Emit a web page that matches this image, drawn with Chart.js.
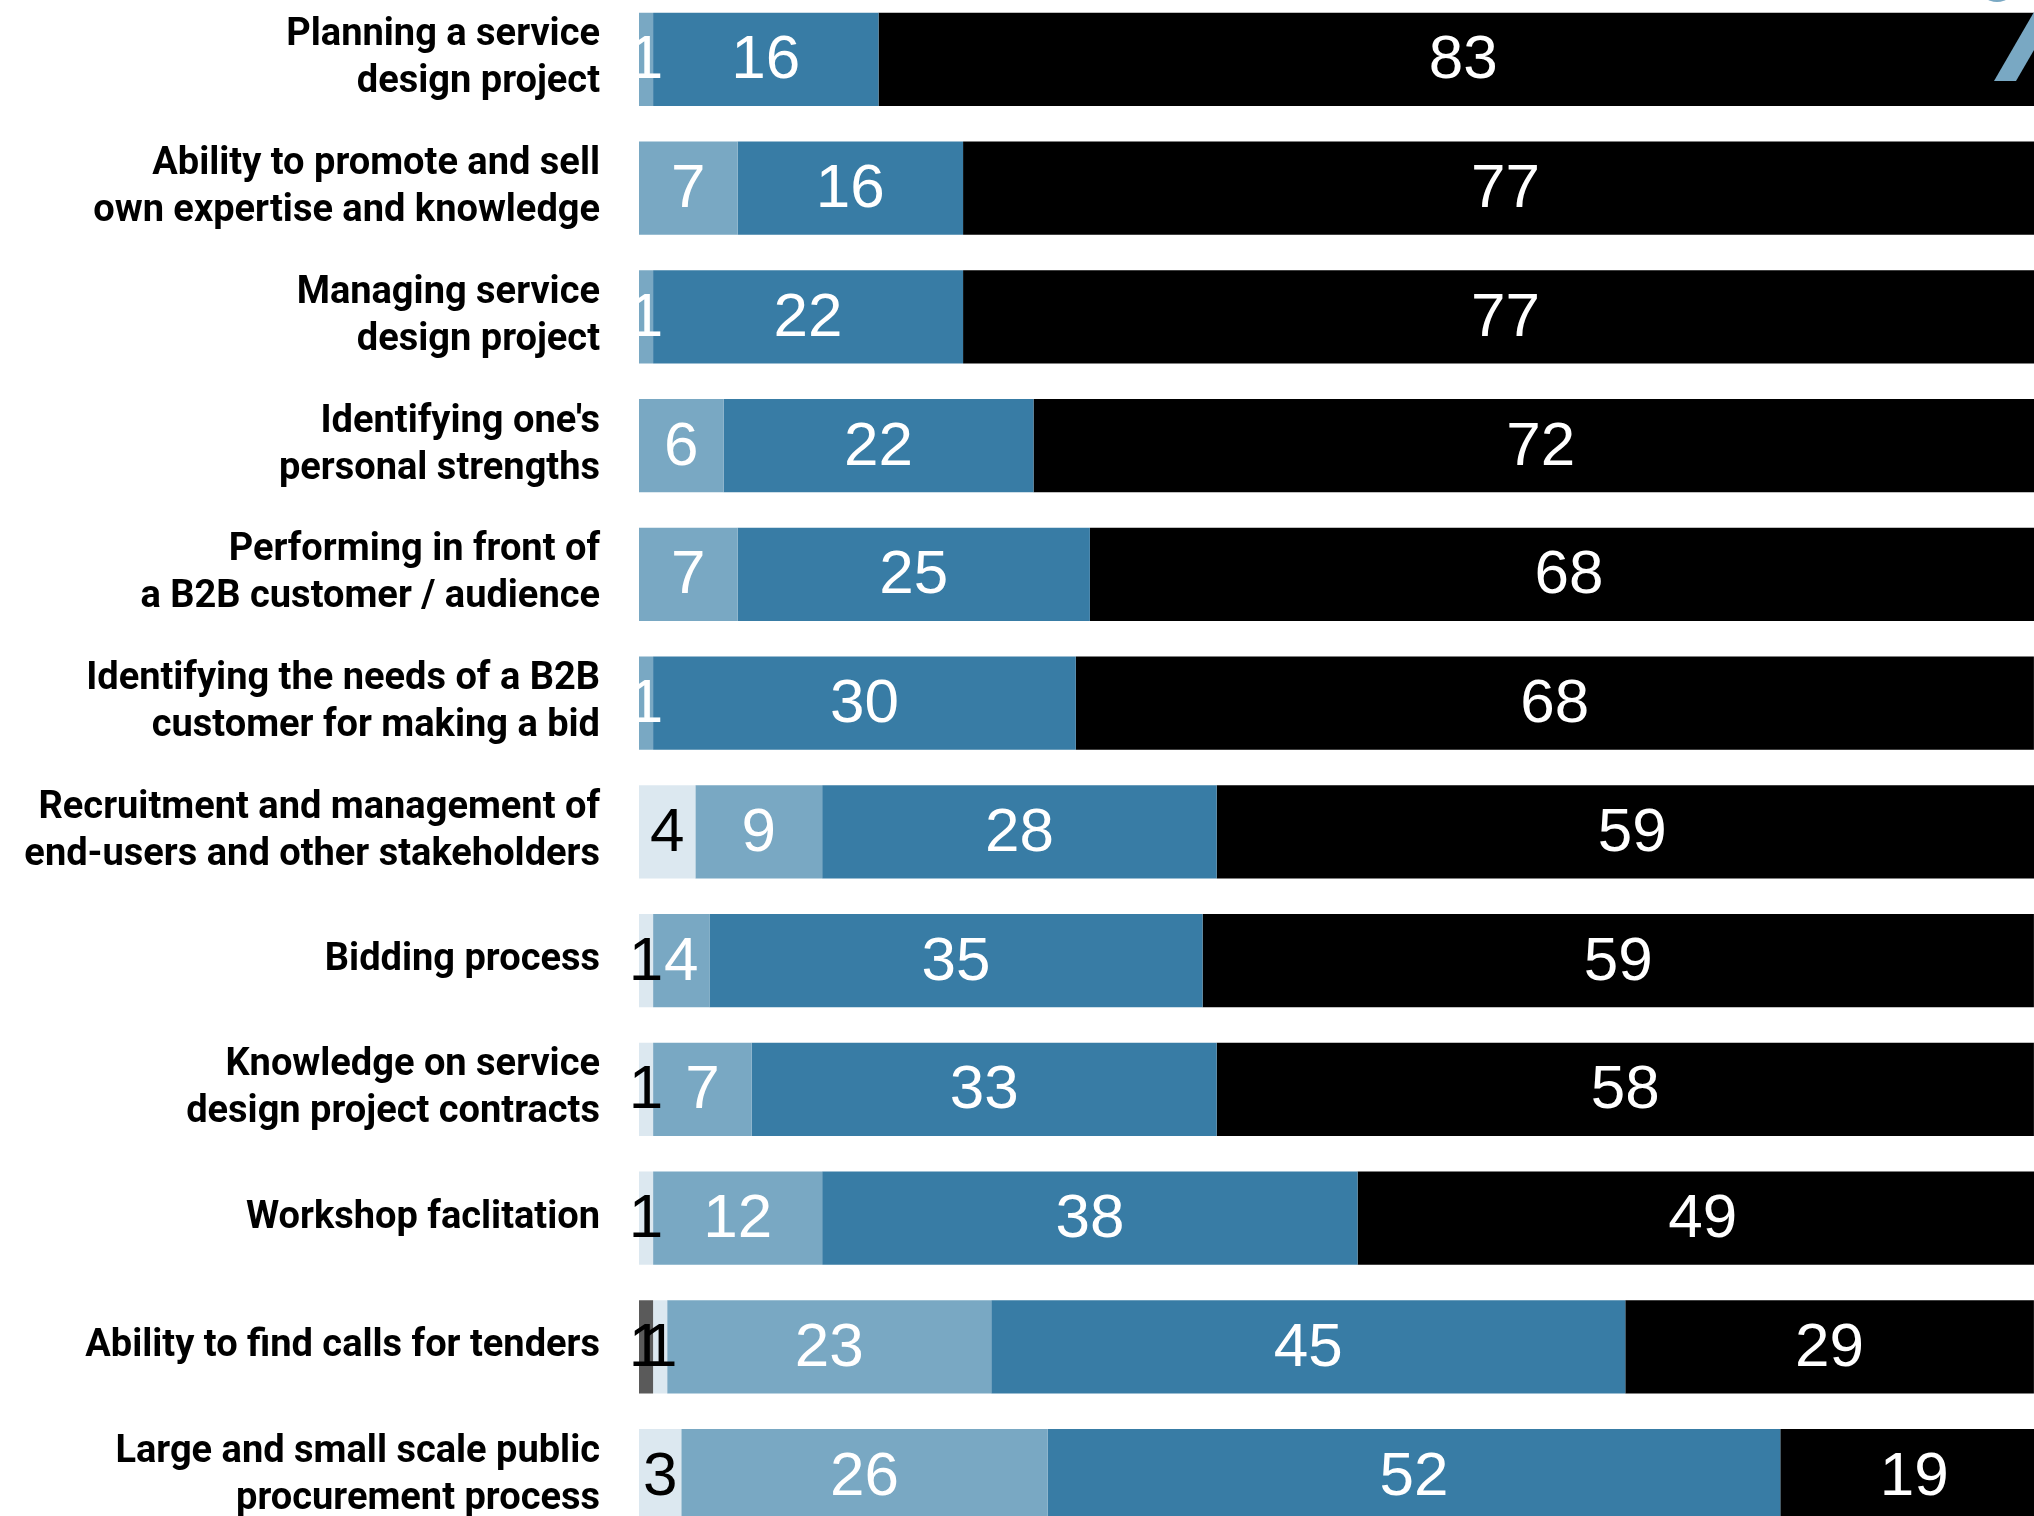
<!DOCTYPE html>
<html>
<head>
<meta charset="utf-8">
<script src="https://cdn.jsdelivr.net/npm/chart.js@4"></script>
<style>
    html, body { margin: 0; padding: 0; background: #fff; overflow: hidden; }
    body { width: 2034px; height: 1516px; position: relative; }
    #myChart { position: absolute; left: 0; top: -5px; }
    #deco { position: absolute; left: 0; top: 0; }
</style>
</head>
<body>
<canvas id="myChart" width="2048" height="1545"></canvas>
<svg id="deco" width="2034" height="1516">
    <ellipse cx="1997" cy="-14" rx="18" ry="16" fill="#79a8c3"/>
    <polygon points="1994,81 2016,81 2060,5 2038,5" fill="#79a8c3"/>
</svg>
<script>
const categories = [
    ['Planning a service', 'design project'],
    ['Ability to promote and sell', 'own expertise and knowledge'],
    ['Managing service', 'design project'],
    ['Identifying one\'s', 'personal strengths'],
    ['Performing in front of', 'a B2B customer / audience'],
    ['Identifying the needs of a B2B', 'customer for making a bid'],
    ['Recruitment and management of', 'end-users and other stakeholders'],
    'Bidding process',
    ['Knowledge on service', 'design project contracts'],
    'Workshop faclitation',
    'Ability to find calls for tenders',
    ['Large and small scale public', 'procurement process']
];

// share of answers per level, from lowest to highest
const level1 = [0, 0, 0, 0, 0, 0, 0, 0, 0, 0, 1, 0];
const level2 = [0, 0, 0, 0, 0, 0, 4, 1, 1, 1, 1, 3];
const level3 = [1, 7, 1, 6, 7, 1, 9, 4, 7, 12, 23, 26];
const level4 = [16, 16, 22, 22, 25, 30, 28, 35, 33, 38, 45, 52];
const level5 = [83, 77, 77, 72, 68, 68, 59, 59, 58, 49, 29, 19];

const colours = ['#5a5a5a', '#dce8f0', '#79a8c3', '#387ca5', '#000000'];
const labelColours = ['#000', '#000', '#fff', '#fff', '#fff'];

const valueLabels = {
    id: 'valueLabels',
    afterDatasetsDraw(chart) {
        const c = chart.ctx;
        c.save();
        c.font = '62px "Liberation Sans", sans-serif';
        c.textAlign = 'center';
        c.textBaseline = 'alphabetic';
        chart.data.datasets.forEach((ds, i) => {
            const meta = chart.getDatasetMeta(i);
            meta.data.forEach((bar, j) => {
                const v = ds.data[j];
                if (!v) return;
                const p = bar.getProps(['x', 'y', 'base'], true);
                c.fillStyle = labelColours[i];
                c.fillText(String(v), (p.x + p.base) / 2, p.y + 19);
            });
        });
        c.restore();
    }
};

const ctx = document.getElementById('myChart');
const chart = new Chart(ctx, {
    type: 'bar',
    data: {
        labels: categories,
        datasets: [level1, level2, level3, level4, level5].map((d, i) => ({
            label: 'Level ' + (i + 1),
            data: d,
            backgroundColor: colours[i],
            borderWidth: 0,
            barPercentage: 0.723,
            categoryPercentage: 1
        }))
    },
    options: {
        indexAxis: 'y',
        responsive: false,
        animation: false,
        devicePixelRatio: 1,
        layout: { padding: 0 },
        plugins: {
            legend: { display: false },
            tooltip: { enabled: false }
        },
        scales: {
            x: {
                stacked: true,
                display: false,
                min: 0,
                max: 100
            },
            y: {
                stacked: true,
                grid: { display: false, drawTicks: false },
                border: { display: false },
                afterFit: s => {
                    s.width = 639;
                    s.paddingTop = 0;
                    s.paddingBottom = 0;
                },
                ticks: {
                    padding: 39,
                    color: '#000',
                    font: { family: 'Roboto, sans-serif', weight: 'bold', size: 38, lineHeight: 1.24 }
                }
            }
        }
    },
    plugins: [valueLabels]
});
</script>
</body>
</html>
